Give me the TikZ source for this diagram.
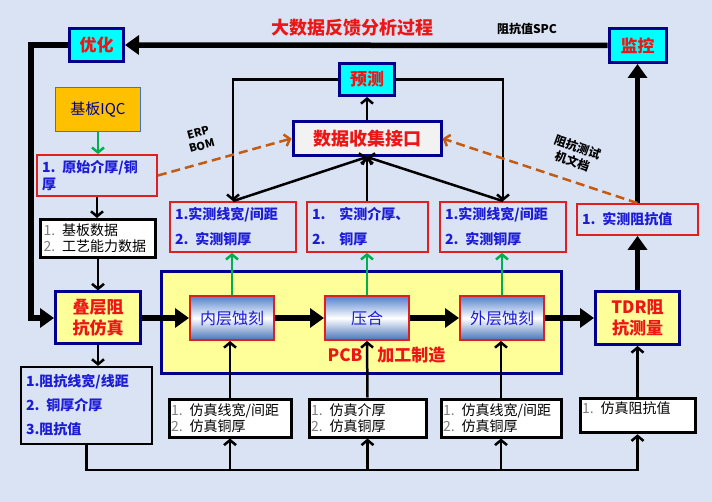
\documentclass[tikz,border=0pt]{standalone}
\usepackage{fontspec}
\setmainfont{Noto Sans CJK SC}
\usetikzlibrary{arrows.meta}
\definecolor{bgblue}{RGB}{218,227,243}
\definecolor{navyline}{RGB}{0,0,140}
\definecolor{cyanfill}{RGB}{0,255,255}
\definecolor{redtext}{RGB}{236,22,22}
\definecolor{bluetext}{RGB}{28,28,215}
\definecolor{lightyellow}{RGB}{255,255,153}
\definecolor{iqcfill}{RGB}{255,192,0}
\definecolor{iqcline}{RGB}{68,114,196}
\definecolor{redline}{RGB}{224,32,32}
\definecolor{greenarrow}{RGB}{0,176,80}
\definecolor{dashbrown}{RGB}{197,90,17}
\definecolor{shadeblue}{RGB}{80,128,205}
\newcommand{\gnum}[1]{\textcolor{gray}{#1}}
\tikzset{
  navybox/.style={draw=navyline, line width=3pt, inner sep=0pt, align=center},
  cyanbox/.style={navybox, fill=cyanfill, text=redtext, font=\fontsize{17}{20}\selectfont\bfseries},
  yellowbox/.style={navybox, fill=lightyellow, text=redtext, font=\fontsize{17}{21}\selectfont\bfseries},
  procbox/.style={draw=redline, line width=2pt, top color=shadeblue, bottom color=shadeblue!90!black, middle color=white,
    minimum width=84pt, minimum height=44pt, text=bluetext, font=\fontsize{16}{18}\selectfont},
  measbox/.style={draw=redline, line width=1.8pt, text=bluetext, align=left, inner xsep=0pt,
    font=\fontsize{14}{16}\selectfont\bfseries},
  simbox/.style={draw=black, line width=3pt, fill=white, align=left, inner xsep=0pt,
    font=\fontsize{14}{16}\selectfont},
  thinarrow/.style={line width=2.5pt, -{Straight Barb[length=5pt,width=12pt]}},
  thickarrow/.style={line width=5.5pt, -{Triangle[length=14pt,width=19pt]}},
  greenline/.style={draw=greenarrow, line width=2.5pt, -{Straight Barb[length=5pt,width=12pt]}},
  dashline/.style={draw=dashbrown, line width=2.5pt, dash pattern=on 9pt off 5pt, -{Straight Barb[length=5pt,width=12pt]}}
}
\begin{document}
\begin{tikzpicture}[x=1pt,y=-1pt]
  \fill[bgblue] (0,0) rectangle (712,502);
  \useasboundingbox (0,0) rectangle (712,502);

  \node[text=redtext, font=\fontsize{18}{20}\selectfont\bfseries] (title) at (352,28) {大数据反馈分析过程};
  \node[font=\fontsize{12}{14}\selectfont\bfseries] (spclabel) at (527,29) {阻抗值SPC};

  \node[cyanbox, minimum width=54pt, minimum height=33pt] (youhua) at (96.5,45) {优化};
  \node[cyanbox, minimum width=57pt, minimum height=34pt] (jiankong) at (637.5,45.5) {监控};
  \node[cyanbox, minimum width=55pt, minimum height=32pt] (yuce) at (367,79.5) {预测};
  \node[navybox, fill=black!5, text=redtext, font=\fontsize{18}{20}\selectfont\bfseries,
    minimum width=148pt, minimum height=34pt] (shuju) at (367,138.5) {数据收集接口};

  \node[draw=iqcline, line width=1pt, fill=iqcfill, text=navyline, font=\fontsize{15}{18}\selectfont,
    minimum width=85pt, minimum height=44pt] (iqc) at (98,109.5) {基板IQC};
  \node[measbox, text width=110pt, minimum height=41pt, inner xsep=5pt] (yuanshi) at (97,175.5)
    {1. 原始介厚/铜\\[1pt]厚};
  \node[simbox, text width=109pt, minimum height=38pt, inner xsep=3pt] (jiban) at (98,238.5)
    {\gnum{1.} 基板数据\\\gnum{2.} 工艺能力数据};
  \node[yellowbox, minimum width=85pt, minimum height=52pt] (diecheng) at (98,318) {叠层阻\\抗仿真};
  \node[draw=black, line width=2.2pt, text=bluetext, align=left, font=\fontsize{14}{16}\selectfont\bfseries,
    text width=121pt, inner xsep=5pt, minimum height=77pt] (zukang) at (86.5,405.5)
    {1.阻抗线宽/线距\\[8pt]2. 铜厚介厚\\[8pt]3.阻抗值};

  \node[navybox, line width=3.5pt, fill=lightyellow, minimum width=400pt, minimum height=102pt] (pcb) at (361.5,322.5) {};
  \node[procbox] (neiceng) at (232,318) {内层蚀刻};
  \node[procbox] (yahe) at (367,318) {压合};
  \node[procbox] (waiceng) at (502,318) {外层蚀刻};
  \node[text=redtext, font=\fontsize{17}{20}\selectfont\bfseries] (pcblabel) at (386.5,355) {PCB\hspace{15pt}加工制造};
  \node[yellowbox, minimum width=84pt, minimum height=53pt] (tdr) at (637.5,318) {TDR阻\\抗测量};

  \node[measbox, text width=116pt, inner xsep=5pt, minimum height=50pt] (celiang1) at (233,227)
    {1.实测线宽/间距\\[9pt]2. 实测铜厚};
  \node[measbox, text width=111pt, inner xsep=5pt, minimum height=50pt] (celiang2) at (367.5,227)
    {1.\hspace{14pt}实测介厚、\\[9pt]2.\hspace{14pt}铜厚};
  \node[measbox, text width=116pt, inner xsep=5pt, minimum height=50pt] (celiang3) at (503,227)
    {1.实测线宽/间距\\[9pt]2. 实测铜厚};
  \node[measbox, text width=111pt, inner xsep=5pt, minimum height=31pt] (celiangz) at (637.5,219.5)
    {1. 实测阻抗值};

  \node[simbox, text width=118pt, inner xsep=2pt, minimum height=38pt] (fangzhen1) at (230,418)
    {\gnum{1.} 仿真线宽/间距\\\gnum{2.} 仿真铜厚};
  \node[simbox, text width=113pt, inner xsep=2pt, minimum height=38pt] (fangzhen2) at (367.5,418)
    {\gnum{1.} 仿真介厚\\\gnum{2.} 仿真铜厚};
  \node[simbox, text width=116pt, inner xsep=2pt, minimum height=38pt] (fangzhen3) at (501,418)
    {\gnum{1.} 仿真线宽/间距\\\gnum{2.} 仿真铜厚};
  \node[simbox, text width=111pt, inner xsep=2pt, minimum height=33pt] (fangzhenz) at (637.5,415.5)
    {\gnum{1.} 仿真阻抗值\\\mbox{}};

  \coordinate (leftrail) at (31,45);
  \coordinate (bus) at (86.5,470);

  \draw[thickarrow] (jiankong.west) -- (youhua.east);
  \draw[thickarrow] (youhua.west) -- (leftrail) |- (diecheng.west);
  \draw[thickarrow] (diecheng.east) -- (neiceng.west);
  \draw[thickarrow] (neiceng.east) -- (yahe.west);
  \draw[thickarrow] (yahe.east) -- (waiceng.west);
  \draw[thickarrow] (waiceng.east) -- (tdr.west);
  \draw[thickarrow] (tdr.north) -- (celiangz.south);
  \draw[thickarrow] (celiangz.north) -- (jiankong.south);

  \draw[greenline] (iqc.south) -- (yuanshi.north -| iqc.south);
  \draw[thinarrow] (yuanshi.south) -- (jiban.north -| yuanshi.south);
  \draw[thinarrow] (jiban.south) -- (diecheng.north);
  \draw[thinarrow] (diecheng.south) -- (zukang.north -| diecheng.south);

  \draw[thinarrow] (zukang.south) |- (bus -| fangzhenz.south) -- (fangzhenz.south);
  \draw[thinarrow] (bus -| fangzhen1.south) -- (fangzhen1.south);
  \draw[thinarrow] (bus -| fangzhen2.south) -- (fangzhen2.south);
  \draw[thinarrow] (bus -| fangzhen3.south) -- (fangzhen3.south);
  \draw[thinarrow] (fangzhen1.north) -- (fangzhen1.north |- neiceng.south);
  \draw[thinarrow] (fangzhen2.north) -- (yahe.south);
  \draw[thinarrow] (fangzhen3.north) -- (fangzhen3.north |- waiceng.south);
  \draw[thinarrow] (fangzhenz.north) -- (tdr.south);

  \draw[greenline] (neiceng.north) -- (neiceng.north |- celiang1.south);
  \draw[greenline] (yahe.north) -- (yahe.north |- celiang2.south);
  \draw[greenline] (waiceng.north) -- (waiceng.north |- celiang3.south);

  \draw[thinarrow] (celiang1.north) -- (shuju.south);
  \draw[thinarrow] (celiang2.north -| shuju.south) -- (shuju.south);
  \draw[thinarrow] (celiang3.north) -- (shuju.south);
  \draw[thinarrow] (shuju.north) -- (yuce.south);
  \draw[thinarrow] (yuce.west) -| (celiang1.north);
  \draw[thinarrow] (yuce.east) -| (celiang3.north);

  \draw[dashline] (yuanshi.east) -- (shuju.west);
  \draw[dashline] (celiangz.north) -- (shuju.east);
  \node[rotate=15, align=center, inner sep=1pt, font=\fontsize{11}{14}\selectfont\bfseries] (erp) at (200,139) {ERP\\BOM};
  \node[rotate=-20, align=center, inner sep=1pt, font=\fontsize{12}{15}\selectfont\bfseries] (wendang) at (575,154) {阻抗测试\\机文档};
\end{tikzpicture}
\end{document}
